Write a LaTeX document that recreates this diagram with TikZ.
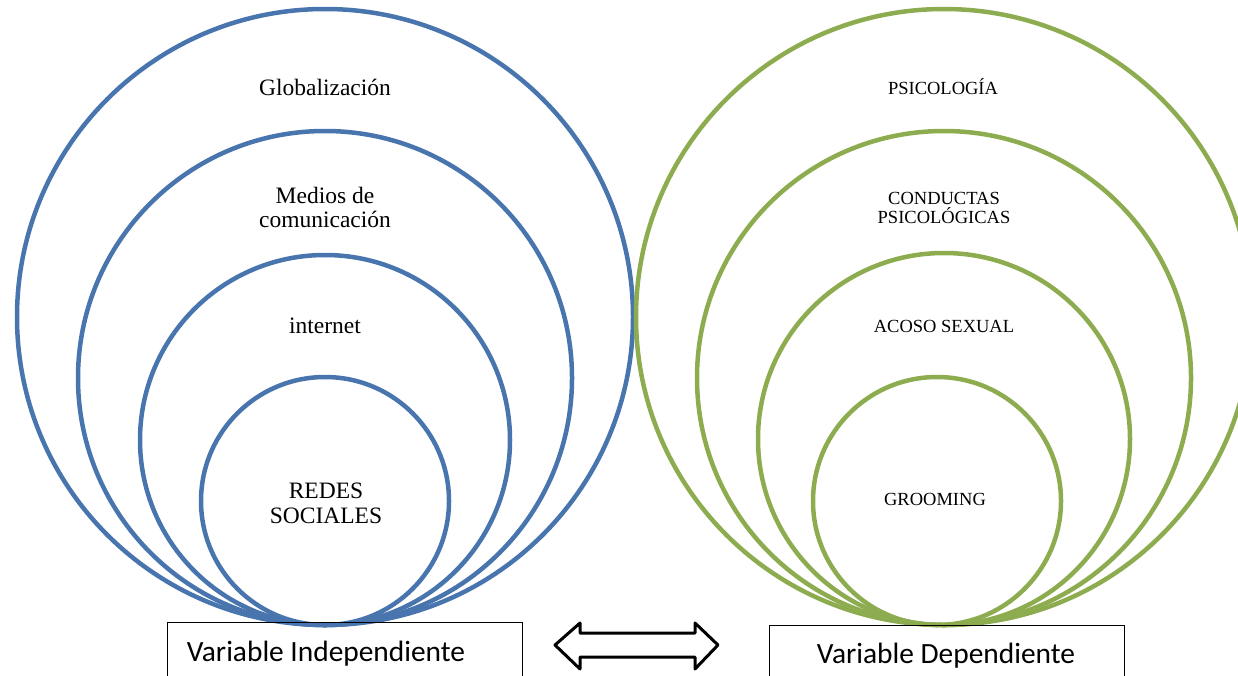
\documentclass[tikz,border=0pt]{standalone}
\usepackage{fontspec}
\setmainfont{Liberation Serif}
\newfontfamily\calib{Carlito}
\definecolor{ringblue}{RGB}{73,117,174}
\definecolor{ringgreen}{RGB}{141,172,79}
\begin{document}
\begin{tikzpicture}[x=1pt,y=-1pt,
  bring/.style={draw=ringblue,line width=4.5pt},
  gring/.style={draw=ringgreen,line width=4.5pt},
  ltext/.style={anchor=base,inner sep=0pt,font=\fontsize{23.5}{24}\selectfont},
  rtext/.style={anchor=base,inner sep=0pt,font=\fontsize{18.5}{19}\selectfont},
  varbox/.style={draw=black,line width=1pt,anchor=north west,inner sep=0pt,minimum height=90pt},
  vartext/.style={anchor=base,inner sep=0pt,font=\calib\fontsize{29.4}{31}\selectfont}]
\useasboundingbox (0,0) rectangle (1238,675);
% left rings
\draw[bring] (325,317) circle[radius=308pt];
\draw[bring] (325,378) circle[radius=247pt];
\draw[bring] (325,440) circle[radius=185pt];
\draw[bring] (325,501) circle[radius=124pt];
% right rings
\draw[gring] (944,317) circle[radius=308pt];
\draw[gring] (944,378) circle[radius=247pt];
\draw[gring] (944,439) circle[radius=186pt];
\draw[gring] (937,501) circle[radius=124pt];
% left texts
\node[ltext] (glob) at (325,95) {Globalización};
\node[ltext] (med1) at (325,203) {Medios de};
\node[ltext] (med2) at (325,227) {comunicación};
\node[ltext] (inet) at (325,333) {internet};
\node[ltext] (red1) at (326,498) {REDES};
\node[ltext] (red2) at (326,523) {SOCIALES};
% right texts
\node[rtext] (psi) at (943,94) {PSICOLOGÍA};
\node[rtext] (con1) at (944,204) {CONDUCTAS};
\node[rtext] (con2) at (944,223) {PSICOLÓGICAS};
\node[rtext] (aco) at (944,332) {ACOSO SEXUAL};
\node[rtext] (groo) at (935,505) {GROOMING};
% boxes
\node[varbox,minimum width=355pt] (lbox) at (167,622) {};
\node[vartext] (ltxt) at (326,661) {Variable Independiente};
\node[varbox,minimum width=355pt] (rbox) at (769,625) {};
\node[vartext] (rtxt) at (946,663) {Variable Dependiente};
% double block arrow
\draw[line width=3pt,line join=round,fill=white]
  (555,645) -- (580,623) -- (580,633) -- (695,633) -- (695,623) -- (718,645)
  -- (695,669) -- (695,657) -- (580,657) -- (580,669) -- cycle;
\end{tikzpicture}
\end{document}
